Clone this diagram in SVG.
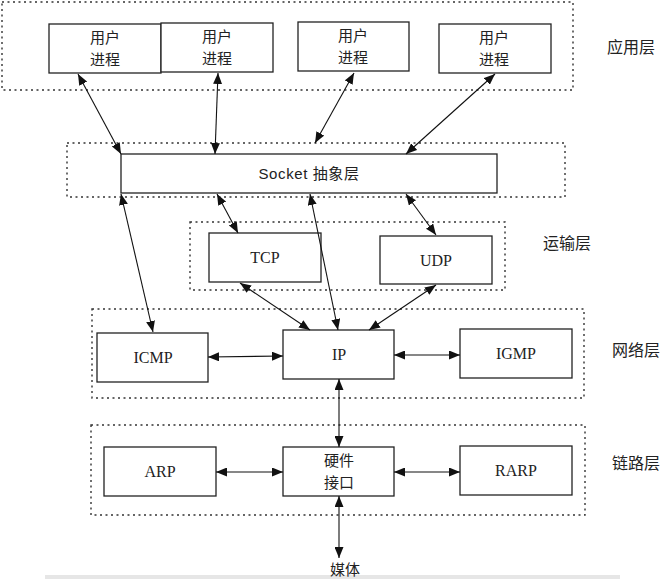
<svg xmlns="http://www.w3.org/2000/svg" width="665" height="579" viewBox="0 0 665 579">
<style>
.layer{fill:none;stroke:#333;stroke-width:1.4;stroke-dasharray:2,3.5}
.box{fill:#fff;stroke:#222;stroke-width:1.3}
.cn{font-family:"Noto Sans CJK SC","Noto Sans",sans-serif;font-size:15px;fill:#222;text-anchor:middle}
.en{font-family:"Liberation Serif",serif;font-size:16px;fill:#222;text-anchor:middle}
.sk{font-family:"Liberation Sans","Noto Sans CJK SC",sans-serif;font-size:15px;fill:#222;text-anchor:middle}
.lbl{font-family:"Noto Sans CJK SC",sans-serif;font-size:16px;fill:#222}
.c{fill:none;stroke:#111;stroke-width:1.1;marker-start:url(#ah);marker-end:url(#ah)}
</style>
<defs>
<marker id="ah" markerUnits="userSpaceOnUse" markerWidth="11" markerHeight="9" refX="11" refY="4.5" orient="auto-start-reverse">
<path d="M0,0 L11,4.5 L0,9 z" fill="#111"/>
</marker>
</defs>
<rect width="665" height="579" fill="#fff"/>
<rect x="45" y="575" width="575" height="4" fill="#e6e6e6"/>

<g id="layers">
<rect class="layer" x="2" y="2" width="571" height="88"/>
<rect class="layer" x="67" y="143" width="498" height="54"/>
<rect class="layer" x="190" y="222" width="315" height="68"/>
<rect class="layer" x="92" y="309" width="492" height="89"/>
<rect class="layer" x="91" y="425" width="494" height="90"/>
</g>

<g id="labels">
<text class="lbl" x="607" y="53">应用层</text>
<text class="lbl" x="543" y="249">运输层</text>
<text class="lbl" x="612" y="356">网络层</text>
<text class="lbl" x="612" y="469">链路层</text>
</g>

<g id="user1"><rect class="box" x="49" y="24" width="112" height="49"/><text class="cn" x="105" y="43">用户</text><text class="cn" x="105" y="65">进程</text></g>
<g id="user2"><rect class="box" x="161" y="23" width="112" height="49"/><text class="cn" x="217" y="42">用户</text><text class="cn" x="217" y="64">进程</text></g>
<g id="user3"><rect class="box" x="298" y="22" width="111" height="49"/><text class="cn" x="353" y="41">用户</text><text class="cn" x="353" y="63">进程</text></g>
<g id="user4"><rect class="box" x="439" y="24" width="112" height="49"/><text class="cn" x="494" y="43">用户</text><text class="cn" x="494" y="65">进程</text></g>

<g id="socket"><rect class="box" x="121" y="154" width="376" height="39"/><text class="sk" x="309" y="179" letter-spacing="0.6">Socket 抽象层</text></g>

<g id="tcp"><rect class="box" x="209" y="233" width="112" height="49"/><text class="en" x="265" y="263">TCP</text></g>
<g id="udp"><rect class="box" x="380" y="236" width="112" height="48"/><text class="en" x="436" y="266">UDP</text></g>

<g id="icmp"><rect class="box" x="97" y="333" width="111" height="49"/><text class="en" x="153" y="363">ICMP</text></g>
<g id="ip"><rect class="box" x="283" y="330" width="111" height="49"/><text class="en" x="339" y="360">IP</text></g>
<g id="igmp"><rect class="box" x="460" y="329" width="112" height="49"/><text class="en" x="516" y="359">IGMP</text></g>

<g id="arp"><rect class="box" x="104" y="447" width="112" height="49"/><text class="en" x="160" y="477">ARP</text></g>
<g id="hw"><rect class="box" x="283" y="447" width="111" height="49"/><text class="cn" x="339" y="466">硬件</text><text class="cn" x="339" y="488">接口</text></g>
<g id="rarp"><rect class="box" x="460" y="446" width="112" height="49"/><text class="en" x="516" y="476">RARP</text></g>

<g id="media"><text class="cn" x="345" y="575">媒体</text></g>

<g id="connectors">
<line class="c" x1="78" y1="74" x2="121" y2="154"/>
<line class="c" x1="218" y1="73" x2="215" y2="154"/>
<line class="c" x1="354" y1="73" x2="315" y2="143"/>
<line class="c" x1="495" y1="74" x2="406" y2="154"/>
<line class="c" x1="217" y1="194" x2="238" y2="233"/>
<line class="c" x1="310" y1="194" x2="338" y2="330"/>
<line class="c" x1="121" y1="194" x2="153" y2="332"/>
<line class="c" x1="406" y1="194" x2="436" y2="235"/>
<line class="c" x1="240" y1="283" x2="310" y2="330"/>
<line class="c" x1="436" y1="285" x2="369" y2="330"/>
<line class="c" x1="208" y1="357" x2="283" y2="356"/>
<line class="c" x1="394" y1="355" x2="460" y2="355"/>
<line class="c" x1="339" y1="379" x2="339" y2="447"/>
<line class="c" x1="216" y1="472" x2="283" y2="472"/>
<line class="c" x1="394" y1="472" x2="460" y2="472"/>
<line class="c" x1="339" y1="496" x2="339" y2="558"/>
</g>
</svg>
